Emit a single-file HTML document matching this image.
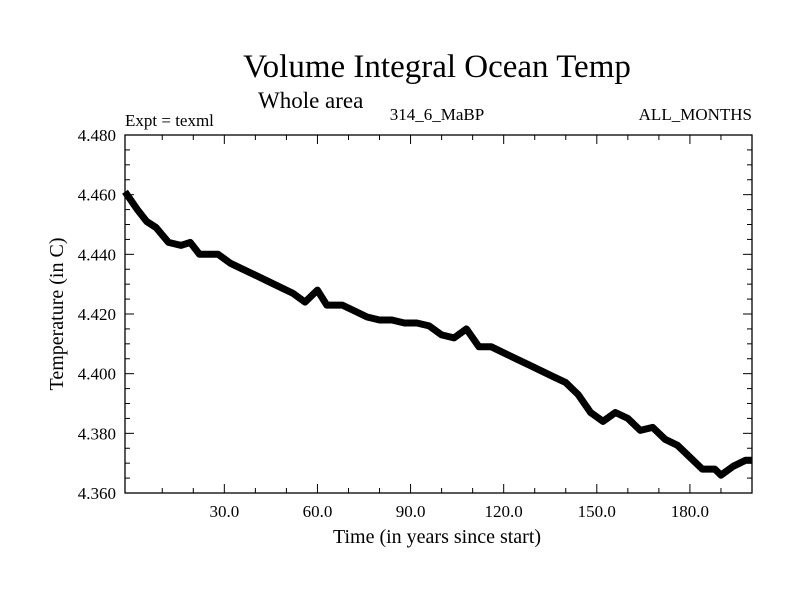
<!DOCTYPE html>
<html><head><meta charset="utf-8"><style>
body{margin:0;background:#fff}
svg{display:block;font-family:"Liberation Serif",serif}
</style></head><body>
<svg id="c" width="800" height="600" xmlns="http://www.w3.org/2000/svg">
<text x="437" y="77" font-size="33" text-anchor="middle">Volume Integral Ocean Temp</text>
<text x="258" y="108" font-size="23">Whole area</text>
<text x="125" y="126" font-size="17">Expt = texml</text>
<text x="437" y="120" font-size="17" text-anchor="middle">314_6_MaBP</text>
<text x="752" y="120" font-size="17" text-anchor="end">ALL_MONTHS</text>
<text transform="translate(63,314) rotate(-90)" font-size="20" text-anchor="middle">Temperature (in C)</text>
<text x="437" y="543" font-size="20" text-anchor="middle">Time (in years since start)</text>
<g id="ax"></g>
</svg>
<script>
const years=[-2,2,5,8,12,16,19,22,28,32,36,40,44,48,52,56,60,63,68,72,76,80,84,88,92,96,100,104,108,112,116,120,124,128,132,136,140,144,148,152,156,160,164,168,172,176,180,184,188,190,194,198,200];
const temps=[4.461,4.455,4.451,4.449,4.444,4.443,4.444,4.440,4.440,4.437,4.435,4.433,4.431,4.429,4.427,4.424,4.428,4.423,4.423,4.421,4.419,4.418,4.418,4.417,4.417,4.416,4.413,4.412,4.415,4.409,4.409,4.407,4.405,4.403,4.401,4.399,4.397,4.393,4.387,4.384,4.387,4.385,4.381,4.382,4.378,4.376,4.372,4.368,4.368,4.366,4.369,4.371,4.371];
const yTicks=[4.360,4.380,4.400,4.420,4.440,4.460,4.480];
const xTicks=[30,60,90,120,150,180];
const X0=125,X1=752,Y0=135,Y1=493,xmin=-2,xmax=200,ymin=4.36,ymax=4.48;
const sx=v=>X0+(v-xmin)/(xmax-xmin)*(X1-X0);
const sy=v=>Y1-(v-ymin)/(ymax-ymin)*(Y1-Y0);
const NS="http://www.w3.org/2000/svg",g=document.getElementById('ax');
function mk(t,a){const e=document.createElementNS(NS,t);for(const k in a)e.setAttribute(k,a[k]);g.appendChild(e);return e;}
let pts=years.map((y,i)=>sx(y).toFixed(1)+','+sy(temps[i]).toFixed(1)).join(' ');
let ln=mk('polyline',{points:pts,fill:'none',stroke:'#000','stroke-width':7,'stroke-linejoin':'round'});


let fr=mk('rect',{x:X0,y:Y0,width:X1-X0,height:Y1-Y0,fill:'none',stroke:'#000','stroke-width':1.3});


for(let v=10;v<xmax;v+=10){const x=sx(v),L=(v%30==0)?9:5;
mk('line',{x1:x,x2:x,y1:Y1,y2:Y1-L,stroke:'#000'});mk('line',{x1:x,x2:x,y1:Y0,y2:Y0+L,stroke:'#000'});}
for(let k=1;k<24;k++){const v=ymin+k*0.005,y=sy(v),L=(k%4==0)?9:5;
mk('line',{x1:X0,x2:X0+L,y1:y,y2:y,stroke:'#000'});mk('line',{x1:X1,x2:X1-L,y1:y,y2:y,stroke:'#000'});}
yTicks.forEach(v=>{const t=mk('text',{x:116,y:sy(v)+6,'font-size':17,'text-anchor':'end'});t.textContent=v.toFixed(3);

});
xTicks.forEach(v=>{const t=mk('text',{x:sx(v),y:517,'font-size':17,'text-anchor':'middle'});t.textContent=v.toFixed(1);

});
</script>
</body></html>
